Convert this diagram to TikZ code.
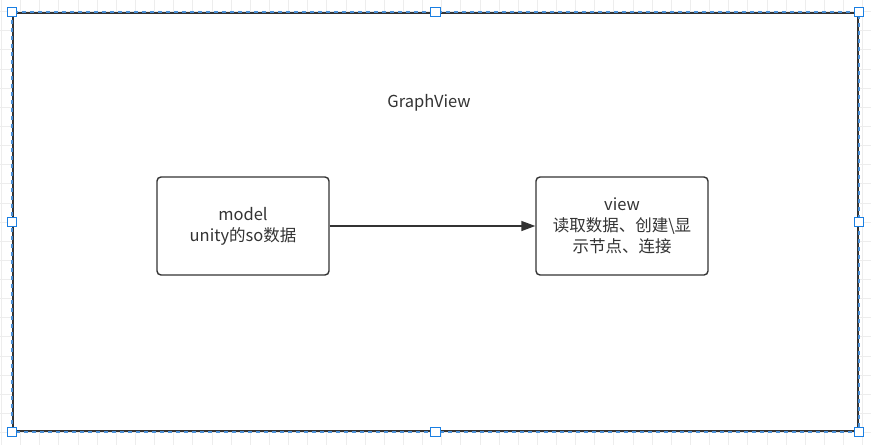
\documentclass[tikz,border=0pt]{standalone}
\usepackage{fontspec}
\setmainfont{Noto Sans CJK SC}
\usepackage{xcolor}
\usepackage{tikz}
\usetikzlibrary{arrows.meta,positioning}

\definecolor{linegray}{HTML}{333333}
\definecolor{gridgray}{HTML}{EDEDED}
\definecolor{selblue}{HTML}{4A8FD6}
\definecolor{handleblue}{HTML}{1A7FE3}

\begin{document}
\begin{tikzpicture}[
    x=1pt, y=-1pt,
    font=\fontsize{16.5}{21}\selectfont,
    text=linegray,
    gridline/.style={gridgray, line width=1pt},
    frame/.style={draw=linegray, fill=white, line width=2pt, minimum width=845pt, minimum height=418pt, inner sep=0pt},
    box/.style={draw=linegray, rounded corners=4pt, line width=1.4pt, minimum width=172pt, minimum height=98pt, align=center},
    handle/.style={draw=handleblue, fill=white, line width=1.2pt, minimum size=9.5pt, inner sep=0pt}
  ]
  \useasboundingbox (0,0) rectangle (871,445);

  % 背景网格
  \foreach \gx in {0,...,45} {
    \draw[gridline] (1.5+19.14*\gx,0) -- (1.5+19.14*\gx,445);
  }
  \foreach \gy in {0,...,23} {
    \draw[gridline] (0,11.6+19.14*\gy) -- (871,11.6+19.14*\gy);
  }

  % 外框 GraphView
  \node[frame] (graphview) at (435.5,222) {};
  \draw[selblue, line width=2pt, dash pattern=on 4pt off 4pt]
    (graphview.north west) rectangle (graphview.south east);
  \node (title) at (429,103) {GraphView};

  % model 与 view
  \node[box] (model) at (243,226) {model\\unity的so数据};
  \node[box] (view) at (622,226) {view\\读取数据、创建\textbackslash 显\\示节点、连接};

  \draw[-{Triangle[length=14pt, width=10pt]}, linegray, line width=1.4pt] (model) -- (view);

  % 选择手柄
  \foreach \anc in {north west, north, north east, west, east, south west, south, south east} {
    \node[handle] at (graphview.\anc) {};
  }
\end{tikzpicture}
\end{document}
